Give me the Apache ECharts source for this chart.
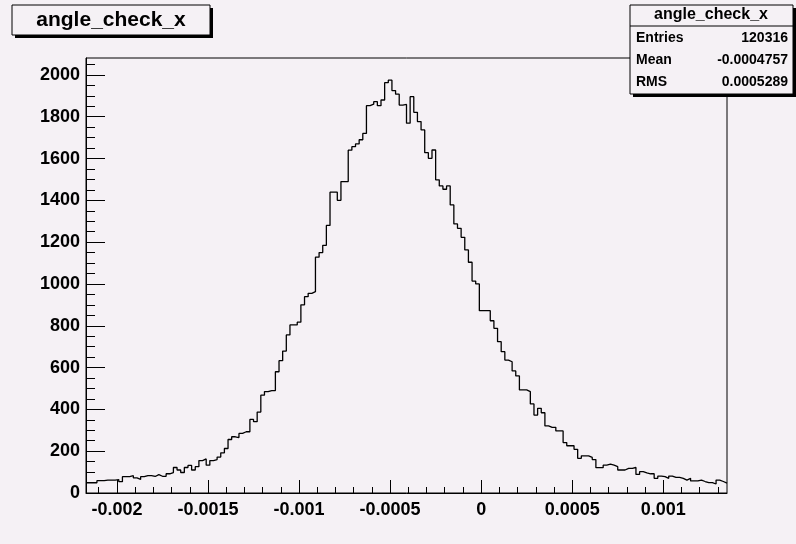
<!DOCTYPE html>
<html>
<head>
<meta charset="utf-8">
<script src="https://cdn.jsdelivr.net/npm/echarts@6/dist/echarts.min.js"></script>
<style>
html,body{margin:0;padding:0;background:#f5f1f5;}
#main{width:796px;height:544px;}
</style>
</head>
<body>
<div id="main"></div>
<script>
// histogram binning
var xMin = -0.00217;
var binWidth = 0.00002;

// bin contents, left to right
var counts = [
  49,49,49,59,59,62,62,62,64,54,
  78,78,83,72,65,78,83,83,79,88,
  80,80,92,98,122,110,98,122,132,110,
  126,155,163,133,155,160,172,192,213,256,
  269,265,285,293,293,352,341,387,468,485,
  490,490,580,633,679,756,804,804,817,900,
  939,955,963,1128,1150,1185,1280,1439,1439,1400,
  1490,1490,1640,1657,1670,1690,1720,1853,1860,1872,
  1853,1880,1963,1975,1925,1908,1856,1859,1769,1896,
  1821,1777,1737,1628,1601,1641,1498,1469,1453,1469,
  1378,1287,1266,1223,1163,1104,1014,1000,872,872,
  872,824,788,724,676,636,628,584,560,493,
  493,485,426,373,405,384,321,314,314,297,
  297,241,226,226,209,166,178,178,170,160,
  121,121,133,138,133,126,110,110,118,118,
  122,89,102,96,92,92,70,81,78,70,
  81,75,75,70,62,70,58,58,62,55,
  50,50,43,62,55,47
];

var xTicks = [-0.002, -0.0015, -0.001, -0.0005, 0, 0.0005, 0.001];
var yTicks = [0, 200, 400, 600, 800, 1000, 1200, 1400, 1600, 1800, 2000];

var statsTitle = 'angle_check_x';
var statsRows = [
  ['Entries', '120316'],
  ['Mean', '-0.0004757'],
  ['RMS', '0.0005289']
];

var xMax = xMin + counts.length * binWidth;
var yMax = 2081;

var xMinor = [];
for (var k = -21; k <= 13; k++) xMinor.push(k / 10000);
var yMinor = [];
for (var j = 0; j <= 41; j++) yMinor.push(j * 50);

var pts = [];
for (var i = 0; i < counts.length; i++) {
  pts.push([xMin + i * binWidth, counts[i]]);
}
pts.push([xMax, counts[counts.length - 1]]);

var fmt = function (v) { return String(Number(v.toPrecision(6))); };
var font = '"Liberation Sans", Arial, sans-serif';

var chart = echarts.init(document.getElementById('main'));

var G = {left: 86, right: 69, top: 58, bottom: 51};
var graphics = [
  // title box with shadow
  {type: 'rect', shape: {x: 15, y: 8, width: 198, height: 30}, style: {fill: '#000'}},
  {type: 'rect', shape: {x: 12, y: 5, width: 198, height: 30}, style: {fill: '#f5f1f5', stroke: '#000', lineWidth: 1}},
  {type: 'text', x: 111, y: 20, style: {text: 'angle_check_x', font: 'bold 21px ' + font, fill: '#000', align: 'center', verticalAlign: 'middle'}},
  // stats box
  {type: 'rect', shape: {x: 633, y: 8, width: 163, height: 89}, style: {fill: '#000'}},
  {type: 'rect', shape: {x: 630, y: 5, width: 163, height: 89}, style: {fill: '#f5f1f5', stroke: '#000', lineWidth: 1}},
  {type: 'text', x: 711, y: 15, style: {text: statsTitle, font: 'bold 16px ' + font, fill: '#000', align: 'center', verticalAlign: 'middle'}},
  {type: 'line', shape: {x1: 630, y1: 26, x2: 793, y2: 26}, style: {stroke: '#000', lineWidth: 1}}
];
statsRows.forEach(function (r, n) {
  var cy = 38 + n * 22;
  graphics.push({type: 'text', x: 636, y: cy, style: {text: r[0], font: 'bold 14px ' + font, fill: '#000', verticalAlign: 'middle'}});
  graphics.push({type: 'text', x: 788, y: cy, style: {text: r[1], font: 'bold 14px ' + font, fill: '#000', align: 'right', verticalAlign: 'middle'}});
});

var labelStyle = {color: '#000', fontWeight: 'bold', fontSize: 18, fontFamily: font};

chart.setOption({
  backgroundColor: '#f5f1f5',
  animation: false,
  grid: {left: G.left, right: G.right, top: G.top, bottom: G.bottom, show: true, borderColor: '#000', borderWidth: 1, backgroundColor: 'transparent'},
  xAxis: [
    {
      type: 'value', min: xMin, max: xMax,
      axisLine: {onZero: false, lineStyle: {color: '#000'}},
      splitLine: {show: false},
      axisTick: {inside: true, length: 13, customValues: xTicks, lineStyle: {color: '#000'}},
      axisLabel: Object.assign({customValues: xTicks, formatter: fmt, margin: 8}, labelStyle)
    },
    {
      type: 'value', min: xMin, max: xMax, position: 'bottom',
      axisLine: {show: false, onZero: false},
      splitLine: {show: false},
      axisTick: {inside: true, length: 6, customValues: xMinor, lineStyle: {color: '#000'}},
      axisLabel: {show: false}
    }
  ],
  yAxis: [
    {
      type: 'value', min: 0, max: yMax,
      axisLine: {show: true, onZero: false, lineStyle: {color: '#000'}},
      splitLine: {show: false},
      axisTick: {inside: true, length: 19, customValues: yTicks, lineStyle: {color: '#000'}},
      axisLabel: Object.assign({customValues: yTicks, formatter: function (v) { return String(v); }, margin: 6}, labelStyle)
    },
    {
      type: 'value', min: 0, max: yMax, position: 'left',
      axisLine: {show: false, onZero: false},
      splitLine: {show: false},
      axisTick: {inside: true, length: 9, customValues: yMinor, lineStyle: {color: '#000'}},
      axisLabel: {show: false}
    }
  ],
  series: [{
    type: 'line',
    step: 'end',
    data: pts,
    showSymbol: false,
    lineStyle: {color: '#000', width: 1.3},
    clip: true
  }],
  graphic: graphics
});
</script>
</body>
</html>
